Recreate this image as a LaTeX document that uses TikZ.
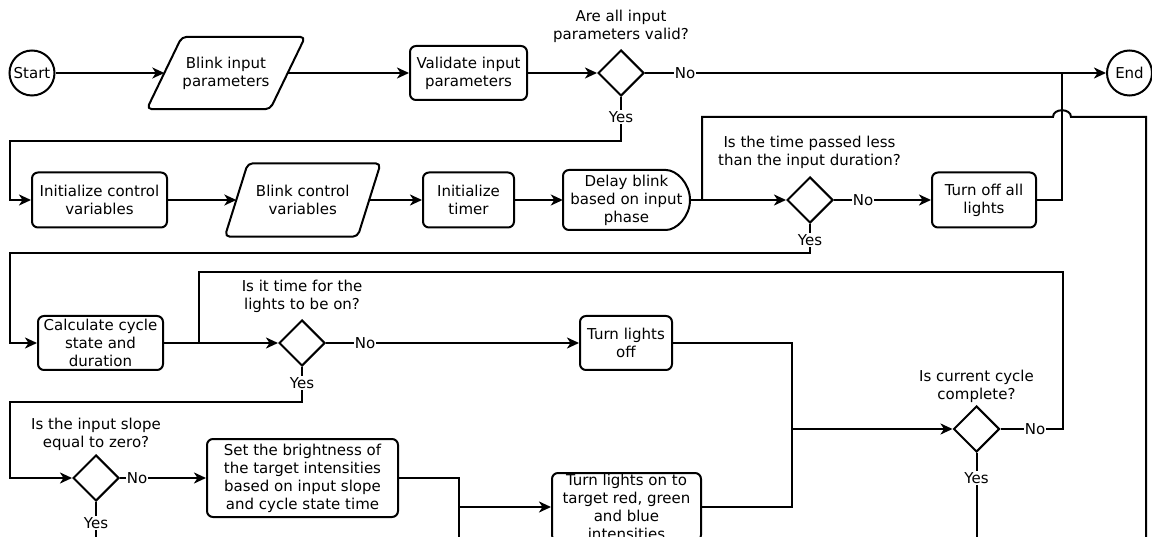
\documentclass[tikz,border=0pt]{standalone}
\usepackage{fontspec}
\setmainfont{DejaVu Sans}
\usetikzlibrary{shapes.geometric,arrows.meta}
\begin{document}
\begin{tikzpicture}[x=1pt,y=-1pt,
  every node/.style={font=\fontsize{15}{18}\selectfont, text=black},
  lw/.style={line width=2pt},
  proc/.style={draw, lw, rounded corners=6pt, align=center, inner sep=0pt},
  plain/.style={align=center, inner sep=0pt},
  dec/.style={diamond, draw, lw, minimum width=46pt, minimum height=46pt, inner sep=0pt},
  term/.style={circle, draw, lw, minimum size=45pt, inner sep=0pt},
  arr/.style={lw, -{Stealth[length=12pt,width=11pt,inset=3.5pt]}},
  ln/.style={lw},
  lbl/.style={fill=white, inner sep=1pt},
  shp/.style={lw, line join=round}
]
\useasboundingbox (0,0) rectangle (1152,537);
\clip (0,0) rectangle (1152,537);

% ---- row 1
\node[term] (start) at (32,73) {Start};
\node[plain, minimum width=123pt, minimum height=72pt] (bip) at (226,73) {Blink input\\parameters};
\draw[shp, rounded corners=5pt] ([xshift=17.5pt]bip.north west) -- ([xshift=17.5pt]bip.north east) -- ([xshift=-17.5pt]bip.south east) -- ([xshift=-17.5pt]bip.south west) -- cycle;
\node[proc, minimum width=117pt, minimum height=54pt] (val) at (468.5,73) {Validate input\\parameters};
\node[dec] (d1) at (621,73) {};
\node[plain] (q1) at (621,26) {Are all input\\parameters valid?};
\node[term] (endc) at (1129.5,73) {End};

% ---- row 2
\node[proc, minimum width=135pt, minimum height=55pt] (icv) at (99.5,200) {Initialize control\\variables};
\node[plain, minimum width=132.5pt, minimum height=73pt] (bcv) at (302.75,200) {Blink control\\variables};
\draw[shp, rounded corners=5pt] ([xshift=11.5pt]bcv.north west) -- ([xshift=11.5pt]bcv.north east) -- ([xshift=-11.5pt]bcv.south east) -- ([xshift=-11.5pt]bcv.south west) -- cycle;
\node[proc, minimum width=91pt, minimum height=55pt] (it) at (468.5,200) {Initialize\\timer};
\node[plain, minimum width=127pt, minimum height=60pt] (delay) at (626.5,200) {Delay blink\\based on input\\phase};
\draw[shp, rounded corners=6pt] (690,200) .. controls (690,183.4) and (676.6,170) .. (660,170) -- (563,170) -- (563,230) -- (660,230) .. controls (676.6,230) and (690,216.6) .. (690,200);
\node[dec] (d2) at (810,200) {};
\node[plain] (q2) at (809.5,152) {Is the time passed less\\than the input duration?};
\node[proc, minimum width=104pt, minimum height=55pt] (tol) at (984,200) {Turn off all\\lights};

% ---- row 3
\node[proc, minimum width=125pt, minimum height=54pt] (calc) at (100.5,343) {Calculate cycle\\state and\\duration};
\node[dec] (d3) at (302,343) {};
\node[plain] (q3) at (302,296) {Is it time for the\\lights to be on?};
\node[proc, minimum width=92pt, minimum height=54pt] (tlo) at (626,343) {Turn lights\\off};
\node[dec] (d4) at (976.5,429) {};
\node[plain] (q4) at (976.5,386.5) {Is current cycle\\complete?};

% ---- row 4
\node[dec] (d5) at (96,478) {};
\node[plain] (q5) at (96,434.5) {Is the input slope\\equal to zero?};
\node[proc, minimum width=191pt, minimum height=78pt] (sb) at (302.5,478) {Set the brightness of\\the target intensities\\based on input slope\\and cycle state time};
\node[proc, minimum width=149pt, minimum height=68pt] (tlon) at (626.5,507) {Turn lights on to\\target red, green\\and blue\\intensities};

% ---- coordinates
\coordinate (j1) at (1062,73);
\coordinate (j2) at (792,429);
\coordinate (j3) at (459,507);
\coordinate (b1) at (459,545);
\coordinate (b2) at (96,545);
\coordinate (b3) at (976.5,545);
\coordinate (b4) at (1146,545);

% ---- connectors
\draw[arr] (start.east) -- (bip.west);
\draw[arr] (bip.east) -- (val.west);
\draw[arr] (val.east) -- (d1.west);
\draw[arr] (d1.east) -- (endc.west);
\draw[ln] (tol.east) -| (j1);
\draw[arr] (d1.south) -- (621,141) -- (10,141) |- (icv.west);
\draw[arr] (icv.east) -- (bcv.west);
\draw[arr] (bcv.east) -- (it.west);
\draw[arr] (it.east) -- (delay.west);
\draw[arr] (delay.east) -- (d2.west);
\draw[arr] (d2.east) -- (tol.west);
\draw[ln] (b4) -- (1146,117) -- (1071,117) .. controls (1071,108) and (1053,108) .. (1053,117) -- (702,117) -- (702,200);
\draw[arr] (d2.south) -- (810,253) -- (10,253) |- (calc.west);
\draw[arr] (calc.east) -- (d3.west);
\draw[arr] (d3.east) -- (tlo.west);
\draw[ln] (d4.east) -| (1063,272) -- (199,272) -- (199,343);
\draw[ln] (tlo.east) -| (j2);
\draw[ln] (tlon.east) -| (j2);
\draw[arr] (j2) -- (d4.west);
\draw[arr] (d3.south) -- (302,402) -- (10,402) |- (d5.west);
\draw[arr] (d5.east) -- (sb.west);
\draw[ln] (sb.east) -| (j3);
\draw[ln] (b1) -- (j3);
\draw[arr] (j3) -- (tlon.west);
\draw[ln] (d5.south) -- (b2);
\draw[ln] (d4.south) -- (b3);

% ---- edge labels
\node[lbl] (l1) at (685,73) {No};
\node[lbl] (l2) at (621,117) {Yes};
\node[lbl] (l3) at (863,200) {No};
\node[lbl] (l4) at (810,240) {Yes};
\node[lbl] (l5) at (365,343) {No};
\node[lbl] (l6) at (302,383) {Yes};
\node[lbl] (l7) at (137,478) {No};
\node[lbl] (l8) at (96,523) {Yes};
\node[lbl] (l9) at (1035,429) {No};
\node[lbl] (l10) at (976.5,478) {Yes};
\end{tikzpicture}
\end{document}
